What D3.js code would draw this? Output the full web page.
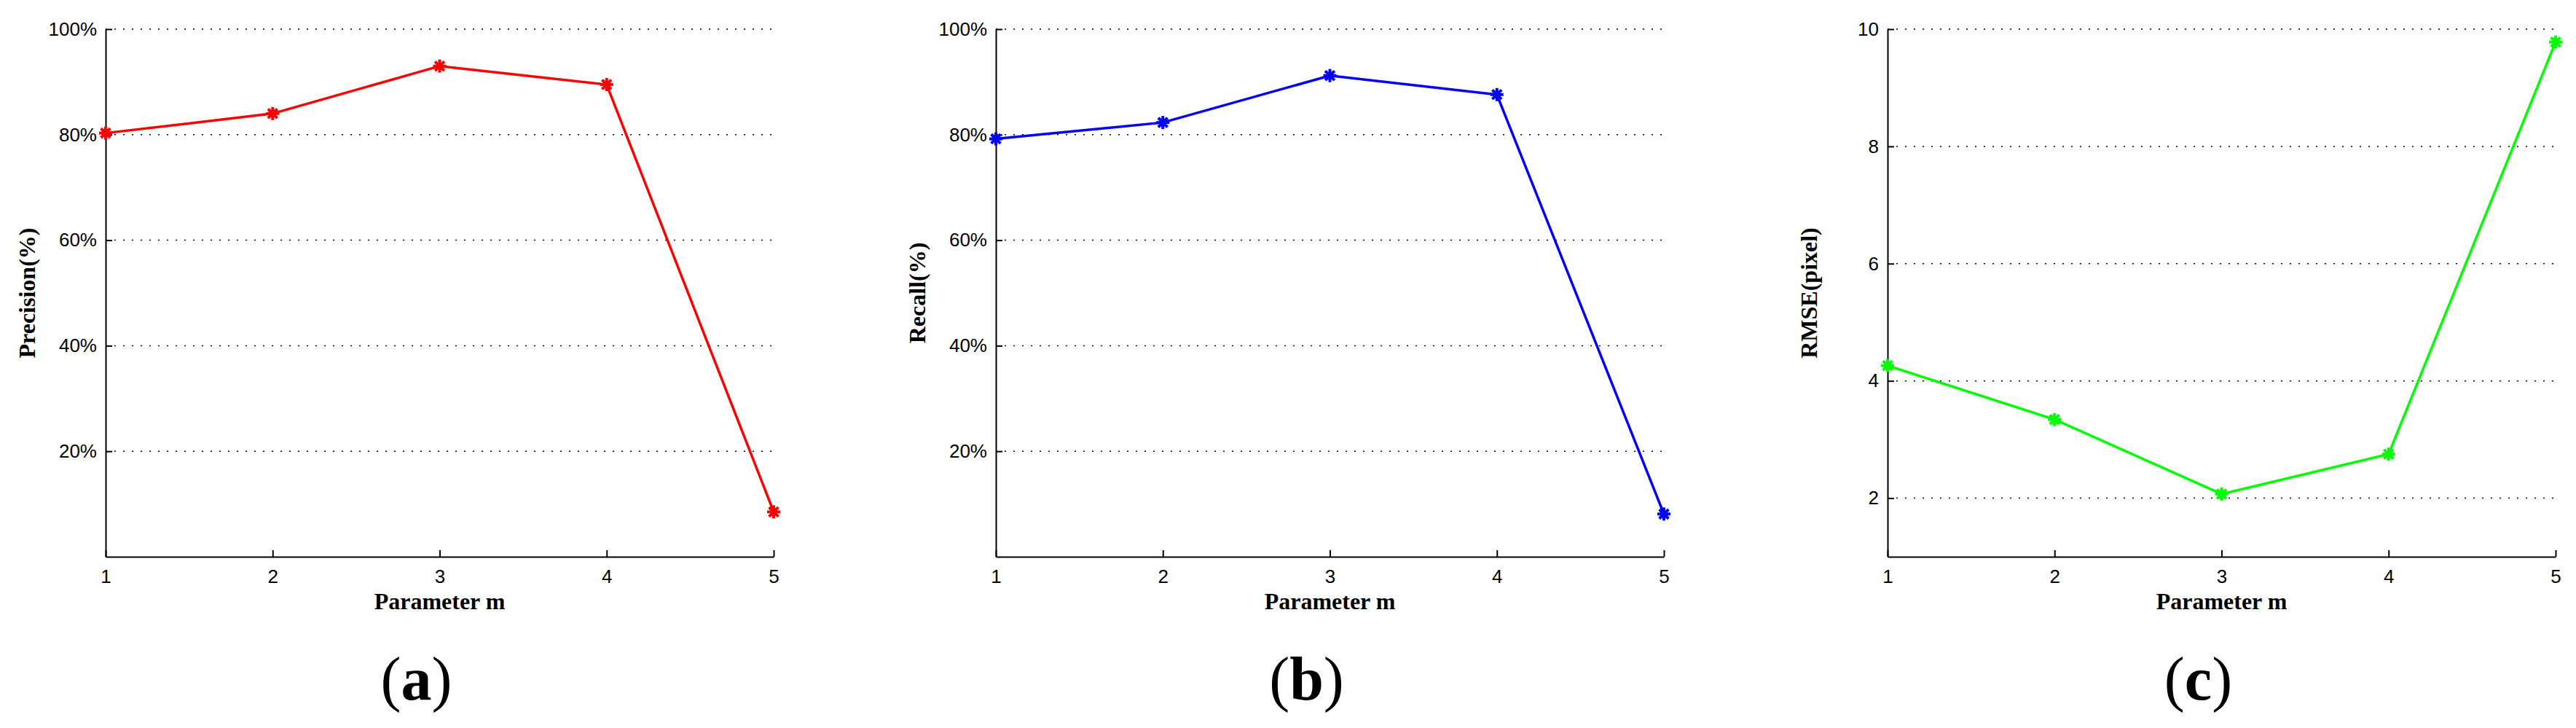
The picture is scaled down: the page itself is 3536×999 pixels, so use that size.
<!DOCTYPE html>
<html>
  <head>
    <script src="https://d3js.org/d3.v7.min.js"></script>
    <style>
      html, body { margin:0; padding:0; background:#fff; }
    </style>
  </head>
  <body>
    <svg id="chart" width="3536" height="999"></svg>
    <script>
      var params = [1, 2, 3, 4, 5];
      var precision = [80.3, 84.0, 93.0, 89.5, 8.5];
      var recall = [79.2, 82.3, 91.2, 87.6, 8.1];
      var rmse = [4.26, 3.34, 2.07, 2.75, 9.78];
      var pctTicks = [20, 40, 60, 80, 100];
      var rmseTicks = [2, 4, 6, 8, 10];

      var panels = [
        { left: 145, values: precision, color: "#ff0000", domain: [0, 100], ticks: pctTicks, fmt: d => d + "%", ylabel: "Precision(%)", tag: "a" },
        { left: 1367, values: recall, color: "#0000ff", domain: [0, 100], ticks: pctTicks, fmt: d => d + "%", ylabel: "Recall(%)", tag: "b" },
        { left: 2591, values: rmse, color: "#00ff00", domain: [1, 10], ticks: rmseTicks, fmt: d => d, ylabel: "RMSE(pixel)", tag: "c" }
      ];

      var svg = d3.select("#chart");
      var plotTop = 40, plotBottom = 764, w = 917;

      panels.forEach(function(p) {
        var x = d3.scaleLinear().domain([1, 5]).range([p.left, p.left + w]);
        var y = d3.scaleLinear().domain(p.domain).range([plotBottom, plotTop]);
        var g = svg.append("g");

        // dotted grid
        g.selectAll(".grid").data(p.ticks).join("line")
          .attr("x1", p.left).attr("x2", p.left + w)
          .attr("y1", d => y(d)).attr("y2", d => y(d))
          .attr("stroke", "#000").attr("stroke-width", 1.5)
          .attr("stroke-dasharray", "2,10");

        var xAxis = g.append("g").attr("transform", "translate(0," + plotBottom + ")")
          .call(d3.axisBottom(x).tickValues(params).tickFormat(d3.format("d")).tickSize(-9).tickPadding(18).tickSizeOuter(0));
        var yAxis = g.append("g").attr("transform", "translate(" + p.left + ",0)")
          .call(d3.axisLeft(y).tickValues(p.ticks).tickFormat(p.fmt).tickSize(-9).tickPadding(12).tickSizeOuter(0));
        [xAxis, yAxis].forEach(function(a) {
          a.select(".domain").attr("stroke", "#000").attr("stroke-width", 2);
          a.selectAll(".tick line").attr("stroke", "#000").attr("stroke-width", 2);
          a.selectAll("text").attr("font-family", "Liberation Sans, Arial, sans-serif")
            .attr("font-size", 26).attr("fill", "#000");
        });

        var line = d3.line().x((d, i) => x(params[i])).y(d => y(d));
        g.append("path").datum(p.values).attr("d", line)
          .attr("fill", "none").attr("stroke", p.color).attr("stroke-width", 3.5);

        // asterisk markers
        var star = g.selectAll(".m").data(p.values).join("g")
          .attr("transform", (d, i) => "translate(" + x(params[i]) + "," + y(d) + ")");
        [0, 45, 90, 135].forEach(function(a) {
          star.append("line").attr("x1", -9).attr("x2", 9).attr("y1", 0).attr("y2", 0)
            .attr("transform", "rotate(" + a + ")")
            .attr("stroke", p.color).attr("stroke-width", 4);
        });

        var cx = p.left + w / 2;
        g.append("text").attr("x", cx).attr("y", 836).attr("text-anchor", "middle")
          .attr("font-family", "Liberation Serif, Times New Roman, serif").attr("font-weight", "bold")
          .attr("font-size", 32).text("Parameter m");
        g.append("text").attr("transform", "translate(" + (p.left - 97) + "," + ((plotTop + plotBottom) / 2) + ") rotate(-90)")
          .attr("text-anchor", "middle")
          .attr("font-family", "Liberation Serif, Times New Roman, serif").attr("font-weight", "bold")
          .attr("font-size", 32).text(p.ylabel);
        var tag = g.append("text").attr("x", cx - 32).attr("y", 960).attr("text-anchor", "middle")
          .attr("font-family", "Liberation Serif, Times New Roman, serif").attr("font-size", 84);
        tag.append("tspan").text("(");
        tag.append("tspan").attr("font-weight", "bold").text(p.tag);
        tag.append("tspan").text(")");
      });
    </script>
  </body>
</html>
